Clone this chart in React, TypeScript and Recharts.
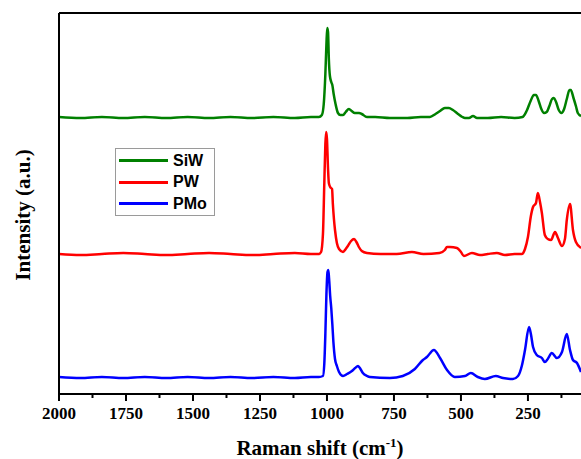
import { Line, LineChart, ReferenceLine, XAxis, YAxis } from 'recharts'

// Raman shift (cm-1) and stacked intensity (a.u.)
const siwShift = [
  2000, 1920, 1840, 1760, 1680, 1600, 1520, 1440, 1360, 1280, 1200, 1120, 1060, 1030, 1019, 1012, 1006,
  1002, 999, 996, 993, 989, 984, 980, 975, 968, 959, 950, 940, 930, 918, 908, 896, 880, 870, 851, 820,
  765, 700, 650, 616, 595, 578, 560, 545, 530, 511, 495, 485, 470, 455, 440, 400, 350, 300, 270, 255,
  240, 228, 220, 210, 200, 190, 180, 170, 160, 153, 145, 135, 125, 115, 105, 95, 90, 80, 70, 64, 52,
]
const siwIntensity = [
  277, 276, 277, 276, 277, 276, 277, 276, 277, 276, 277, 276, 277, 277, 279, 290, 320,
  350, 366, 362, 335, 318, 312, 309, 300, 290, 281, 279, 279, 282, 285, 283, 281, 281, 280, 277, 277,
  276, 276, 277, 277, 280, 283, 286, 286, 284, 280, 277, 276, 276, 278, 276, 276, 277, 276, 277, 283,
  293, 299, 299, 293, 285, 281, 282, 288, 295, 296, 292, 284, 281, 285, 295, 304, 304, 296, 287, 281, 278,
]

const pwShift = [
  2000, 1920, 1840, 1760, 1680, 1600, 1520, 1440, 1360, 1280, 1200, 1120, 1060, 1030, 1022, 1015, 1010,
  1006, 1003, 1000, 996, 993, 988, 981, 978, 974, 970, 963, 955, 940, 930, 922, 910, 899, 890, 881, 870,
  851, 800, 740, 683, 640, 580, 560, 552, 541, 515, 500, 489, 459, 429, 400, 366, 336, 300, 273, 261,
  250, 239, 231, 220, 213, 205, 198, 187, 176, 164, 149, 138, 123, 112, 105, 93, 82, 71, 52,
]
const pwIntensity = [
  140, 139, 140, 141, 140, 139, 140, 141, 140, 139, 140, 141, 140, 140, 142, 160, 210,
  250, 262, 255, 225, 211, 207, 205, 190, 175, 164, 151, 145, 142, 145, 148, 153, 155, 152, 147, 143,
  141, 140, 140, 142, 140, 141, 144, 147, 147, 146, 142, 138, 141, 139, 140, 141, 139, 140, 140, 145,
  157, 178, 187, 191, 201, 192, 181, 159, 155, 154, 162, 156, 148, 155, 174, 190, 164, 152, 146,
]

const pmoShift = [
  2000, 1920, 1840, 1760, 1680, 1600, 1520, 1440, 1360, 1280, 1200, 1120, 1060, 1030, 1015, 1010, 1006,
  1002, 998, 995, 992, 988, 984, 980, 976, 970, 963, 955, 940, 925, 907, 895, 884, 875, 866, 850, 840,
  765, 717, 672, 642, 627, 601, 578, 552, 523, 485, 463, 437, 411, 370, 343, 306, 287, 273, 261, 246,
  239, 231, 217, 198, 187, 176, 161, 142, 123, 105, 93, 82, 67, 52,
]
const pmoIntensity = [
  17, 16, 17, 16, 17, 16, 17, 16, 17, 16, 17, 16, 17, 17, 18, 30, 60,
  100, 122, 124, 115, 98, 86, 70, 52, 35, 28, 22, 18, 20, 23, 26, 28, 25, 21, 18, 17,
  16, 18, 25, 34, 37, 44, 36, 24, 17, 18, 21, 17, 15, 18, 16, 15, 18, 28, 44, 67,
  60, 47, 39, 36, 32, 35, 41, 36, 42, 60, 44, 34, 31, 22,
]

const seriesNames = ['SiW', 'PW', 'PMo']
const seriesColors = ['#008000', '#ff0000', '#0000ff']
const majorTicks = [2000, 1750, 1500, 1250, 1000, 750, 500, 250]
const minorTicks = [1875, 1625, 1375, 1125, 875, 625, 375, 125]

const toPoints = (shift: number[], intensity: number[]) =>
  shift.map((s, i) => ({ shift: s, intensity: intensity[i] }))

const seriesData = [
  toPoints(siwShift, siwIntensity),
  toPoints(pwShift, pwIntensity),
  toPoints(pmoShift, pmoIntensity),
]

const serif = '"Liberation Serif", "Times New Roman", serif'

function ShiftTick({ x, y, payload }: any) {
  const major = majorTicks.includes(payload.value)
  return (
    <g>
      <line x1={x} x2={x} y1={y} y2={y + (major ? 7 : 4)} stroke="#000" strokeWidth={2} />
      {major && (
        <text x={x} y={y + 25} textAnchor="middle" fontFamily={serif} fontWeight="bold" fontSize={17} fill="#000">
          {payload.value}
        </text>
      )}
    </g>
  )
}

// legend drawn as an overlay so it does not take space from the plot
function LegendBox() {
  return (
    <div
      style={{
        position: 'absolute',
        left: 115,
        top: 148,
        width: 98,
        height: 65,
        border: '1px solid #9a9a9a',
        background: '#fff',
        fontFamily: '"Liberation Sans", Arial, sans-serif',
        fontWeight: 'bold',
        fontSize: 16,
        paddingTop: 1,
      }}
    >
      {seriesNames.map((name, i) => (
        <div key={name} style={{ display: 'flex', alignItems: 'center', height: 21.5 }}>
          <span style={{ display: 'inline-block', width: 49, height: 3, marginLeft: 3, background: seriesColors[i] }} />
          <span style={{ marginLeft: 5, color: '#000' }}>{name}</span>
        </div>
      ))}
    </div>
  )
}

export default function App() {
  return (
    <div style={{ position: 'absolute', left: 0, top: 0, width: 581, height: 459, background: '#fff' }}>
      <LineChart width={581} height={459} margin={{ top: 13, right: 0, bottom: 0, left: 0 }}>
        <XAxis
          type="number"
          dataKey="shift"
          domain={[52, 2000]}
          reversed
          allowDataOverflow
          ticks={[...majorTicks, ...minorTicks]}
          interval={0}
          height={65}
          tickSize={0}
          tickMargin={0}
          tick={<ShiftTick />}
          axisLine={{ stroke: '#000', strokeWidth: 2 }}
          label={{
            content: () => (
              <text x={320} y={455} textAnchor="middle" fontFamily={serif} fontWeight="bold" fontSize={21} fill="#000">
                Raman shift (cm
                <tspan dy={-8} fontSize={13}>-1</tspan>
                <tspan dy={8}>)</tspan>
              </text>
            ),
          }}
        />
        <YAxis
          type="number"
          domain={[0, 381]}
          allowDataOverflow
          width={59}
          tick={false}
          tickLine={false}
          axisLine={{ stroke: '#000', strokeWidth: 2 }}
          label={{
            content: () => (
              <text
                x={30}
                y={215}
                transform="rotate(-90 30 215)"
                textAnchor="middle"
                fontFamily={serif}
                fontWeight="bold"
                fontSize={21}
                fill="#000"
              >
                Intensity (a.u.)
              </text>
            ),
          }}
        />
        <ReferenceLine y={381} stroke="#000" strokeWidth={2} />
        {seriesData.map((d, i) => (
          <Line
            key={seriesNames[i]}
            data={d}
            dataKey="intensity"
            name={seriesNames[i]}
            type="monotone"
            stroke={seriesColors[i]}
            strokeWidth={2.5}
            dot={false}
            isAnimationActive={false}
          />
        ))}
      </LineChart>
      <LegendBox />
    </div>
  )
}
